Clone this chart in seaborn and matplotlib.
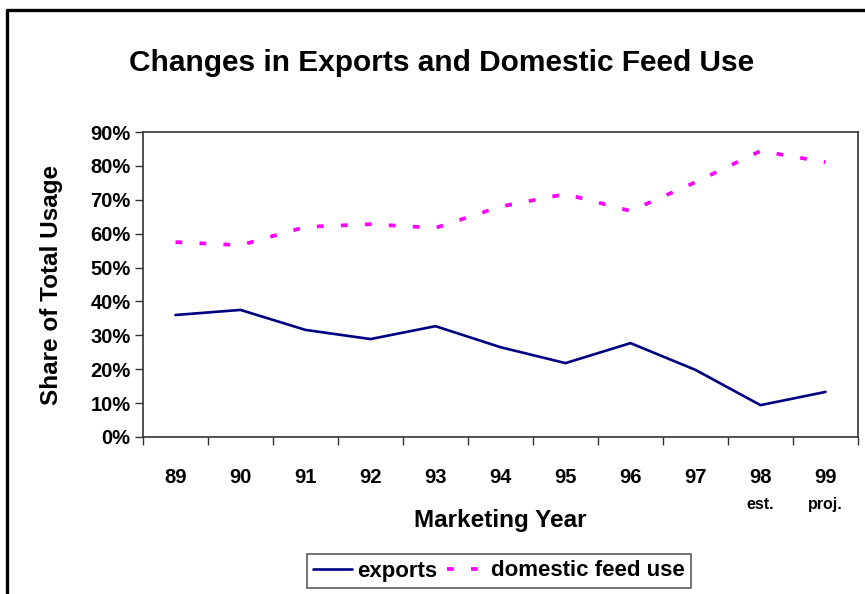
import matplotlib
matplotlib.use("Agg")
import matplotlib.pyplot as plt
from matplotlib.lines import Line2D
import seaborn as sns
import pandas as pd
import numpy as np

years = ["89", "90", "91", "92", "93", "94", "95", "96", "97", "98", "99"]
year_notes = {"98": "est.", "99": "proj."}
exports = [36.0, 37.5, 31.6, 28.9, 32.7, 26.5, 21.8, 27.7, 19.8, 9.4, 13.3]
feed_use = [57.5, 56.6, 62.0, 62.8, 61.7, 68.0, 71.7, 66.7, 75.2, 84.4, 81.1]
yticks = [0, 10, 20, 30, 40, 50, 60, 70, 80, 90]

sns.set_theme(style="white")
plt.rcParams["font.family"] = ["Liberation Sans", "DejaVu Sans"]
plt.rcParams["font.weight"] = "bold"
plt.rcParams["text.color"] = "black"
plt.rcParams["axes.labelcolor"] = "black"
plt.rcParams["xtick.color"] = "black"
plt.rcParams["ytick.color"] = "black"

fig = plt.figure(figsize=(8.65, 5.94), dpi=100)
ax = fig.add_axes([143/865, 1-437/594, (858-143)/865, (437-132)/594])

x = np.arange(len(years))
df = pd.DataFrame({"x": np.concatenate([x, x]),
                   "v": exports + feed_use,
                   "s": ["exports"]*len(x) + ["domestic feed use"]*len(x)})
sns.lineplot(data=df[df.s == "exports"], x="x", y="v", ax=ax, color="#000080",
             lw=1.9, legend=False)
sns.lineplot(data=df[df.s == "domestic feed use"], x="x", y="v", ax=ax, color="#FF00FF",
             lw=2.7, legend=False)
ax.lines[1].set_dashes((1.8, 4.6))

ax.set_xlim(-0.5, len(years)-0.5)
ax.set_ylim(0, 90)
ax.set_yticks(yticks)
ax.set_yticklabels([f"{v}%" for v in yticks], fontsize=14.5, fontweight="bold")
ax.set_xticks(x)
ax.set_xticklabels(years, fontsize=14.5, fontweight="bold")
ax.set_xticks(np.arange(-0.5, len(years)), minor=True)
ax.tick_params(axis="x", which="major", length=0, pad=22)
ax.tick_params(axis="x", which="minor", length=6, width=1, color="#333333", bottom=True)
ax.tick_params(axis="y", which="major", length=6, width=1, color="#333333", left=True, pad=3)
for s in ax.spines.values():
    s.set_color("#333333")
    s.set_linewidth(1.2)
ax.set_xlabel("")
ax.set_ylabel("Share of Total Usage", fontsize=17.5, fontweight="bold")
ax.yaxis.set_label_coords((63-143)/(858-143), 0.5)
fig.text(500/865, 1-521/594, "Marketing Year", fontsize=17.5, fontweight="bold",
         ha="center", va="center")
for i, yr in enumerate(years):
    if yr in year_notes:
        ax.text(i, -19.8, year_notes[yr], fontsize=11.5, fontweight="bold",
                ha="center", va="center")

fig.text(442/865, 1-63/594, "Changes in Exports and Domestic Feed Use",
         fontsize=21.5, fontweight="bold", ha="center", va="center")

handles = [Line2D([], [], color="#000080", lw=1.9),
           Line2D([], [], color="#FF00FF", lw=2.7, dashes=(1.8, 4.6))]
leg = fig.legend(handles, ["exports", "domestic feed use"], loc="center",
                 bbox_to_anchor=(499/865, 1-571/594), ncol=2, frameon=True,
                 fancybox=False, edgecolor="#333333",
                 prop={"weight": "bold", "size": 16}, handlelength=1.75,
                 columnspacing=0.4, handletextpad=0.25, borderpad=0.3,
                 borderaxespad=0)
leg.get_frame().set_linewidth(1.2)

# figure frame
fig.add_artist(Line2D([6.5/865, 6.5/865], [0, 1-9.5/594], color="black", lw=2.4,
                      transform=fig.transFigure))
fig.add_artist(Line2D([6.5/865, 1], [1-9.5/594, 1-9.5/594], color="black", lw=2.4,
                      transform=fig.transFigure))

fig.savefig("out.png", dpi=100)
